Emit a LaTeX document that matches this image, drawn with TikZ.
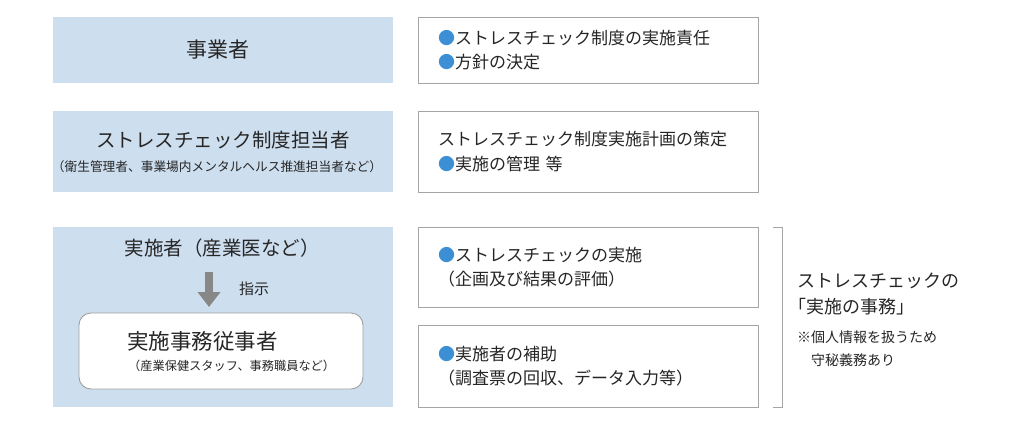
\documentclass[tikz,border=0pt]{standalone}
\usepackage{fontspec}
\setmainfont{Noto Sans CJK JP}
\usetikzlibrary{arrows.meta}
\definecolor{boxblue}{RGB}{205,222,239}
\definecolor{boxgray}{RGB}{165,165,165}
\definecolor{dotblue}{RGB}{60,143,212}
\definecolor{txt}{RGB}{38,38,38}
\definecolor{arrowgray}{RGB}{135,135,135}
\newcommand{\bdot}{{\color{dotblue}●}}
\begin{document}
\begin{tikzpicture}[x=1pt,y=-1pt,
  leftbox/.style={fill=boxblue, draw=none, minimum width=340pt, inner sep=0pt},
  rightbox/.style={draw=boxgray, line width=0.9pt, fill=white, minimum width=340pt,
    text width=300pt, inner xsep=20pt, inner ysep=0pt, align=left, text=txt,
    font=\fontsize{17}{24.5}\selectfont},
  title/.style={text=txt, inner sep=0pt, font=\fontsize{19.5}{22}\selectfont},
  subtitle/.style={text=txt, inner sep=0pt, font=\fontsize{12.7}{14}\selectfont},
  note/.style={text=txt, inner sep=0pt, anchor=west}
]
\useasboundingbox[fill=white] (0,0) rectangle (1024,429);

% left column
\node[leftbox, minimum height=66pt] (L1) at (223,50) {};
\node[leftbox, minimum height=81pt] (L2) at (223,151.5) {};
\node[leftbox, minimum height=180pt] (L3) at (223,317) {};

\node[title, font=\fontsize{21}{22}\selectfont] (jigyosha) at (218,50) {事業者};
\node[title] (tanto) at (223,140) {ストレスチェック制度担当者};
\node[subtitle] (tantosub) at (217,167) {（衛生管理者、事業場内メンタルヘルス推進担当者など）};

\node[title] (jisshisha) at (222,248) {実施者（産業医など）};
\node[text=txt, inner sep=0pt, font=\fontsize{15}{17}\selectfont, anchor=west] (shiji) at (239,289) {指示};

\node[draw=arrowgray!80, line width=0.9pt, fill=white, rounded corners=12pt,
  minimum width=284pt, minimum height=76pt] (jimu) at (221,351) {};
\node[title, anchor=west, font=\fontsize{21.5}{22}\selectfont] (jimutitle) at (127,341) {実施事務従事者};
\node[subtitle, anchor=west, font=\fontsize{12.2}{14}\selectfont] (jimusub) at (128,366) {（産業保健スタッフ、事務職員など）};

\coordinate (a1) at (209,272);
\coordinate (a2) at (209,307);
\draw[arrowgray, line width=8.5pt, -{Triangle[width=22pt,length=15pt]}] (a1) -- (a2);

% right column
\node[rightbox, minimum height=66pt] (R1) at (588,50)
  {\bdot ストレスチェック制度の実施責任\\\bdot 方針の決定};
\node[rightbox, minimum height=81pt] (R2) at (588,151.5)
  {ストレスチェック制度実施計画の策定\\\bdot 実施の管理 等};
\node[rightbox, minimum height=80pt] (R3) at (588,267)
  {\bdot ストレスチェックの実施\\（企画及び結果の評価）};
\node[rightbox, minimum height=82pt] (R4) at (588,366)
  {\bdot 実施者の補助\\（調査票の回収、データ入力等）};

% bracket
\coordinate (b1) at (773,227);
\coordinate (b2) at (782,227);
\coordinate (b3) at (782,407);
\coordinate (b4) at (773,407);
\draw[boxgray, line width=0.9pt] (b1) -- (b2) -- (b3) -- (b4);

\node[note, font=\fontsize{18}{20}\selectfont] (n1) at (797,281) {ストレスチェックの};
\node[note, font=\fontsize{18}{20}\selectfont] (n2) at (788,307) {「実施の事務」};
\node[note, font=\fontsize{14}{16}\selectfont] (n3) at (797,337) {※個人情報を扱うため};
\node[note, font=\fontsize{14}{16}\selectfont] (n4) at (811,360) {守秘義務あり};
\end{tikzpicture}
\end{document}
